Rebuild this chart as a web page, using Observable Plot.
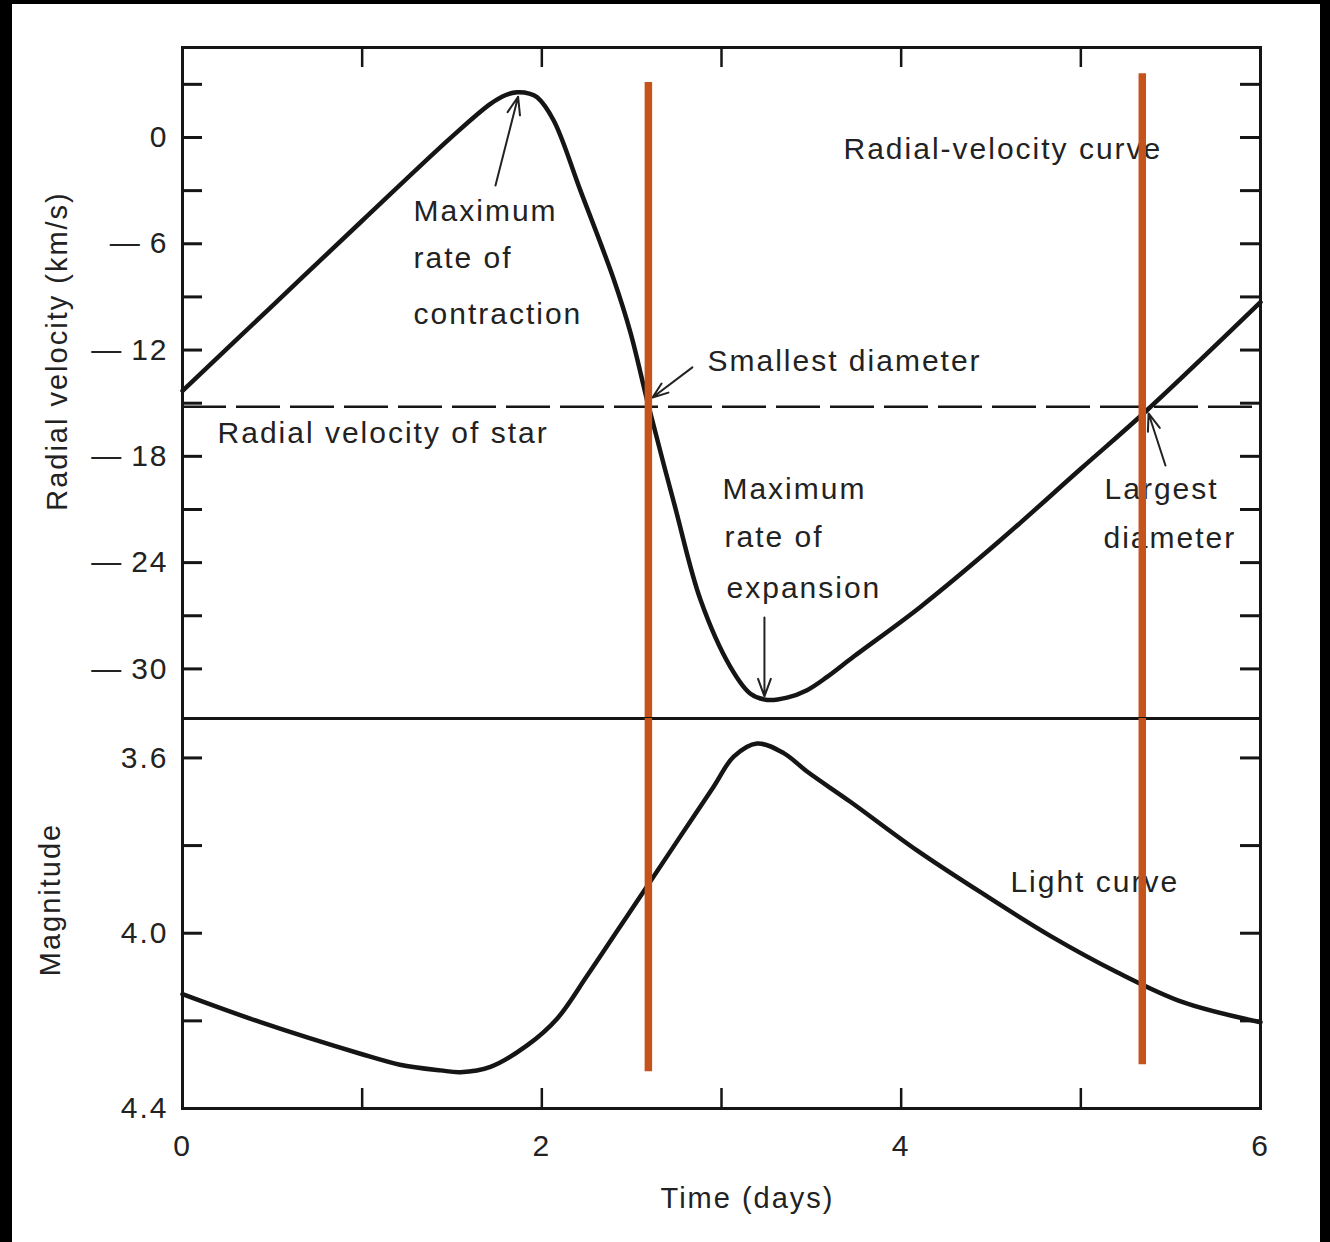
<!DOCTYPE html>
<html><head><meta charset="utf-8">
<script src="https://cdn.jsdelivr.net/npm/d3@7"></script>
<script src="https://cdn.jsdelivr.net/npm/@observablehq/plot@0.6"></script>
<style>
html,body{margin:0;padding:0;background:#000;}
#page{position:relative;width:1330px;height:1242px;overflow:hidden;background:#000;}
#paper{position:absolute;left:12px;top:4px;width:1308px;height:1238px;background:#fff;}
#top,#bottom{position:absolute;left:0;}
#top{top:0px;}
#bottom{top:706px;}
</style></head>
<body>
<div id="page"><div id="paper"></div><div id="top"></div><div id="bottom"></div></div>
<script>
// ---- Data ----
const rvTime     = [0, 0.5, 1.0, 1.5, 1.714, 1.80, 1.862, 1.93, 1.974, 2.066, 2.215, 2.40, 2.493, 2.593, 2.74, 2.883, 3.05, 3.161, 3.254, 3.365, 3.476, 3.588, 3.736, 4.107, 4.552, 5.0, 5.368, 6.0];
const rvVelocity = [-14.3, -9.5, -4.7, 0.05, 1.9, 2.4, 2.55, 2.48, 2.27, 0.96, -3.0, -8.0, -11.0, -15.12, -20.8, -26.1, -29.9, -31.4, -31.75, -31.62, -31.2, -30.45, -29.3, -26.5, -22.74, -18.7, -15.4, -9.3];

const lcTime      = [0, 0.434, 0.99, 1.21, 1.436, 1.547, 1.714, 1.918, 2.085, 2.252, 2.419, 2.586, 2.771, 2.957, 3.068, 3.198, 3.346, 3.476, 3.717, 4.088, 4.459, 4.830, 5.202, 5.572, 6.0];
const lcMagnitude = [4.139, 4.203, 4.275, 4.300, 4.313, 4.317, 4.305, 4.256, 4.195, 4.097, 3.995, 3.893, 3.779, 3.665, 3.597, 3.567, 3.589, 3.631, 3.700, 3.811, 3.911, 4.006, 4.089, 4.158, 4.203];

const velocityTicks   = [3, 0, -3, -6, -9, -12, -15, -18, -21, -24, -27, -30];
const velocityLabels  = [0, -6, -12, -18, -24, -30];
const magnitudeTicks  = [3.6, 3.8, 4.0, 4.2];
const magnitudeLabels = [3.6, 4.0, 4.4];
const timeTicks  = [1, 2, 3, 4, 5];
const timeLabels = [0, 2, 4, 6];

const starVelocity = -15.2;

const markerTimes = [2.593, 5.342];
const markerTopVelocity = [3.1, 3.6];
const markerBottomMagnitude = [4.316, 4.30];

const topNotes = [
  {label: "Maximum", t: 1.286, v: -4.18},
  {label: "rate of", t: 1.286, v: -6.83},
  {label: "contraction", t: 1.286, v: -9.99},
  {label: "Smallest diameter", t: 2.922, v: -12.65},
  {label: "Radial velocity of star", t: 0.195, v: -16.71},
  {label: "Radial-velocity curve", t: 3.679, v: -0.68},
  {label: "Maximum", t: 3.005, v: -19.87},
  {label: "rate of", t: 3.017, v: -22.58},
  {label: "expansion", t: 3.028, v: -25.46},
  {label: "Largest", t: 5.132, v: -19.87},
  {label: "diameter", t: 5.126, v: -22.64}
];
const topArrows = [
  {t1: 1.742, v1: -2.71, t2: 1.868, v2: 2.3},
  {t1: 2.838, v1: -12.98, t2: 2.616, v2: -14.68},
  {t1: 3.239, v1: -27.10, t2: 3.239, v2: -31.55},
  {t1: 5.471, v1: -18.52, t2: 5.377, v2: -15.58}
];
const bottomNotes = [
  {label: "Light curve", t: 4.608, m: 3.884}
];

// ---- Layout ----
const W = 1330, mL = 182, mR = 70;
const topH = 730, topMT = 47, topMB = 12;
const botH = 536, botMT = 12, botMB = 134;
const vDomain = [-32.8, 5.08];
const mDomain = [3.51, 4.4];
const tDomain = [0, 6];
const tickPx = 20;
const tPerPx = (tDomain[1] - tDomain[0]) / (W - mL - mR);
const vPerPx = (vDomain[1] - vDomain[0]) / (topH - topMT - topMB);
const mPerPx = (mDomain[1] - mDomain[0]) / (botH - botMT - botMB);

const ink = "#151515", textInk = "#222", orange = "#c4541c";
const font = "'Liberation Sans', Arial, Helvetica, sans-serif";
const svgStyle = `font-family:${font};letter-spacing:2px;background:transparent;overflow:visible;color:${ink};`;

const rv = rvTime.map((t, i) => ({t, v: rvVelocity[i]}));
const lc = lcTime.map((t, i) => ({t, m: lcMagnitude[i]}));
const markers = markerTimes.map((t, i) => ({t, vTop: markerTopVelocity[i], mBot: markerBottomMagnitude[i]}));
const velFmt = v => v === 0 ? "0" : "\u2014\u2009" + Math.abs(v);

const topPlot = Plot.plot({
  width: W, height: topH,
  marginLeft: mL, marginRight: mR, marginTop: topMT, marginBottom: topMB,
  style: svgStyle,
  x: {domain: tDomain, axis: null},
  y: {domain: vDomain, axis: null},
  marks: [
    Plot.ruleY(velocityTicks, {y: d => d, x1: tDomain[0], x2: tDomain[0] + tickPx * tPerPx, stroke: ink, strokeWidth: 3}),
    Plot.ruleY(velocityTicks, {y: d => d, x1: tDomain[1] - tickPx * tPerPx, x2: tDomain[1], stroke: ink, strokeWidth: 3}),
    Plot.ruleX(timeTicks, {x: d => d, y1: vDomain[1], y2: vDomain[1] - tickPx * vPerPx, stroke: ink, strokeWidth: 2.5}),
    Plot.ruleY([starVelocity], {stroke: ink, strokeWidth: 2.5, strokeDasharray: "44,10"}),
    Plot.line(rv, {x: "t", y: "v", curve: "catmull-rom", stroke: ink, strokeWidth: 4.5}),
    Plot.arrow(topArrows, {x1: "t1", y1: "v1", x2: "t2", y2: "v2", stroke: textInk, strokeWidth: 2, headLength: 14, headAngle: 40}),
    Plot.text(topNotes, {x: "t", y: "v", text: "label", textAnchor: "start", fontSize: 30, fill: textInk}),
    Plot.text(velocityLabels, {x: tDomain[0], y: d => d, text: velFmt, textAnchor: "end", dx: -14, fontSize: 30, fill: textInk}),
    Plot.text(["Radial velocity (km/s)"], {frameAnchor: "left", textAnchor: "middle", lineAnchor: "middle", dx: -125, dy: -32, rotate: -90, fontSize: 29, fill: textInk}),
    Plot.frame({stroke: ink, strokeWidth: 3}),
    Plot.ruleX(markers, {x: "t", y1: "vTop", y2: vDomain[0], stroke: orange, strokeWidth: 7.5})
  ]
});
document.getElementById("top").appendChild(topPlot);

const botPlot = Plot.plot({
  width: W, height: botH,
  marginLeft: mL, marginRight: mR, marginTop: botMT, marginBottom: botMB,
  style: svgStyle,
  x: {domain: tDomain, axis: null},
  y: {domain: mDomain, reverse: true, axis: null},
  marks: [
    Plot.ruleY(magnitudeTicks, {y: d => d, x1: tDomain[0], x2: tDomain[0] + tickPx * tPerPx, stroke: ink, strokeWidth: 3}),
    Plot.ruleY(magnitudeTicks, {y: d => d, x1: tDomain[1] - tickPx * tPerPx, x2: tDomain[1], stroke: ink, strokeWidth: 3}),
    Plot.ruleX(timeTicks, {x: d => d, y1: mDomain[1], y2: mDomain[1] - tickPx * mPerPx, stroke: ink, strokeWidth: 2.5}),
    Plot.line(lc, {x: "t", y: "m", curve: "catmull-rom", stroke: ink, strokeWidth: 4.5}),
    Plot.text(bottomNotes, {x: "t", y: "m", text: "label", textAnchor: "start", fontSize: 30, fill: textInk}),
    Plot.text(magnitudeLabels, {x: tDomain[0], y: d => d, text: d => d3.format(".1f")(d), textAnchor: "end", dx: -14, fontSize: 30, fill: textInk}),
    Plot.text(timeLabels, {x: d => d, y: mDomain[1], text: d => String(d), dy: 38, fontSize: 30, fill: textInk}),
    Plot.text(["Magnitude"], {frameAnchor: "left", textAnchor: "middle", lineAnchor: "middle", dx: -132, dy: -14, rotate: -90, fontSize: 29, fill: textInk}),
    Plot.text(["Time (days)"], {frameAnchor: "bottom", textAnchor: "middle", lineAnchor: "middle", dx: 26, dy: 90, fontSize: 29, fill: textInk}),
    Plot.frame({stroke: ink, strokeWidth: 3}),
    Plot.ruleX(markers, {x: "t", y1: mDomain[0], y2: "mBot", stroke: orange, strokeWidth: 7.5})
  ]
});
document.getElementById("bottom").appendChild(botPlot);
</script>
</body></html>
